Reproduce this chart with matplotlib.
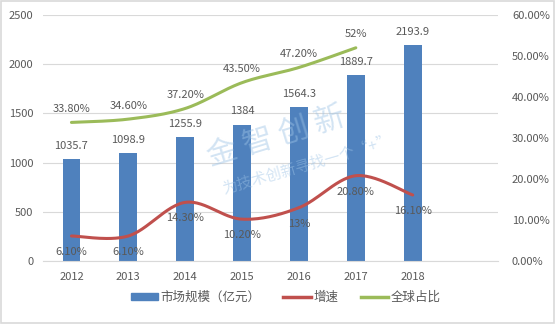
import numpy as np
import matplotlib
matplotlib.use("Agg")
import matplotlib.pyplot as plt
from matplotlib.patches import Rectangle
from matplotlib.lines import Line2D

plt.rcParams['font.family'] = ['Noto Sans CJK SC', 'DejaVu Sans']

years = ['2012', '2013', '2014', '2015', '2016', '2017', '2018']
market = [1035.7, 1098.9, 1255.9, 1384, 1564.3, 1889.7, 2193.9]
growth = [6.10, 6.10, 14.30, 10.20, 13.0, 20.80, 16.10]
growth_labels = ['6.10%', '6.10%', '14.30%', '10.20%', '13%', '20.80%', '16.10%']
share = [33.80, 34.60, 37.20, 43.50, 47.20, 52.0]
share_labels = ['33.80%', '34.60%', '37.20%', '43.50%', '47.20%', '52%']
market_labels = ['1035.7', '1098.9', '1255.9', '1384', '1564.3', '1889.7', '2193.9']

BLUE = '#4F81BD'
RED = '#C0504D'
GREEN = '#9BBB59'
TXT = '#595959'
GRID = '#D9D9D9'


def smooth(x, y, n=30):
    x = np.asarray(x, float)
    y = np.asarray(y, float)
    px = np.concatenate([[x[0]], x, [x[-1]]])
    py = np.concatenate([[y[0]], y, [y[-1]]])
    xs, ys = [], []
    t = np.linspace(0, 1, n)
    for i in range(1, len(px) - 2):
        p0, p1, p2, p3 = (np.array([px[j], py[j]]) for j in (i - 1, i, i + 1, i + 2))
        c1 = p1 + (p2 - p0) / 6.0
        c2 = p2 - (p3 - p1) / 6.0
        b = ((1 - t) ** 3)[:, None] * p1 + (3 * (1 - t) ** 2 * t)[:, None] * c1 \
            + (3 * (1 - t) * t ** 2)[:, None] * c2 + (t ** 3)[:, None] * p2
        xs.append(b[:, 0]); ys.append(b[:, 1])
    return np.concatenate(xs), np.concatenate(ys)


fig = plt.figure(figsize=(5.55, 3.24), dpi=100)
ax = fig.add_axes([43 / 555, 1 - 261 / 324, 455 / 555, 246 / 324])
ax2 = ax.twinx()

x = np.arange(len(years))
ax.bar(x, market, width=0.31, color=BLUE, zorder=2)
for xi, v, lab in zip(x, market, market_labels):
    ax.annotate(lab, (xi, v), xytext=(0, 6), textcoords='offset points',
                ha='center', va='bottom', fontsize=8, color=TXT, zorder=5)

ax.set_xlim(-0.5, 7.5)
ax.set_ylim(0, 2500)
ax.set_yticks(np.arange(0, 2501, 500))
ax.set_xticks(x)
ax.set_xticklabels(years)
ax.grid(axis='y', color=GRID, linewidth=0.8, zorder=0)
ax.set_axisbelow(True)
for s in ['top', 'right', 'left']:
    ax.spines[s].set_visible(False)
ax.spines['bottom'].set_color(GRID)
ax.tick_params(length=0, labelsize=8, labelcolor=TXT, pad=8)
ax.tick_params(axis='y', pad=7)

ax2.set_ylim(0, 60)
ax2.set_yticks(np.arange(0, 61, 10))
ax2.set_yticklabels([f'{v:.2f}%' for v in np.arange(0, 61, 10)])
for s in ax2.spines.values():
    s.set_visible(False)
ax2.tick_params(length=0, labelsize=8, labelcolor=TXT, pad=10)

gx, gy = smooth(x, growth)
ax2.plot(gx, gy, color=RED, linewidth=2.2, zorder=3, solid_capstyle='round')
sx, sy = smooth(x[:len(share)], share)
ax2.plot(sx, sy, color=GREEN, linewidth=2.2, zorder=3, solid_capstyle='round')

for xi, v, lab in zip(x, growth, growth_labels):
    ax2.annotate(lab, (xi, v), xytext=(0, -8), textcoords='offset points',
                 ha='center', va='top', fontsize=8, color=TXT, zorder=5)
for xi, v, lab in zip(x, share, share_labels):
    ax2.annotate(lab, (xi, v), xytext=(0, 6), textcoords='offset points',
                 ha='center', va='bottom', fontsize=8, color=TXT, zorder=5)

# watermark
fig.text(0.497, 0.577, '金 智 创 新', fontsize=22, color='#9DC3E6', alpha=0.45,
         rotation=17, ha='center', va='center')
fig.text(0.553, 0.49, '为技术创新寻找一个“+”', fontsize=11, color='#9DC3E6', alpha=0.45,
         rotation=16, ha='center', va='center')

handles = [Rectangle((0, 0), 1, 1, color=BLUE),
           Line2D([], [], color=RED, linewidth=2.5),
           Line2D([], [], color=GREEN, linewidth=2.5)]
fig.legend(handles, ['市场规模（亿元）', '增速', '全球占比'], loc='center',
           bbox_to_anchor=(0.515, 1 - 297 / 324), ncol=3, frameon=False,
           fontsize=9, labelcolor=TXT, handlelength=2.2, handleheight=0.5,
           columnspacing=1.8, handletextpad=0.2)

fig.patches.append(Rectangle((0.001, 0.002), 0.997, 0.995, transform=fig.transFigure,
                             fill=False, edgecolor=GRID, linewidth=1.2))

fig.savefig('out.png', dpi=100)
